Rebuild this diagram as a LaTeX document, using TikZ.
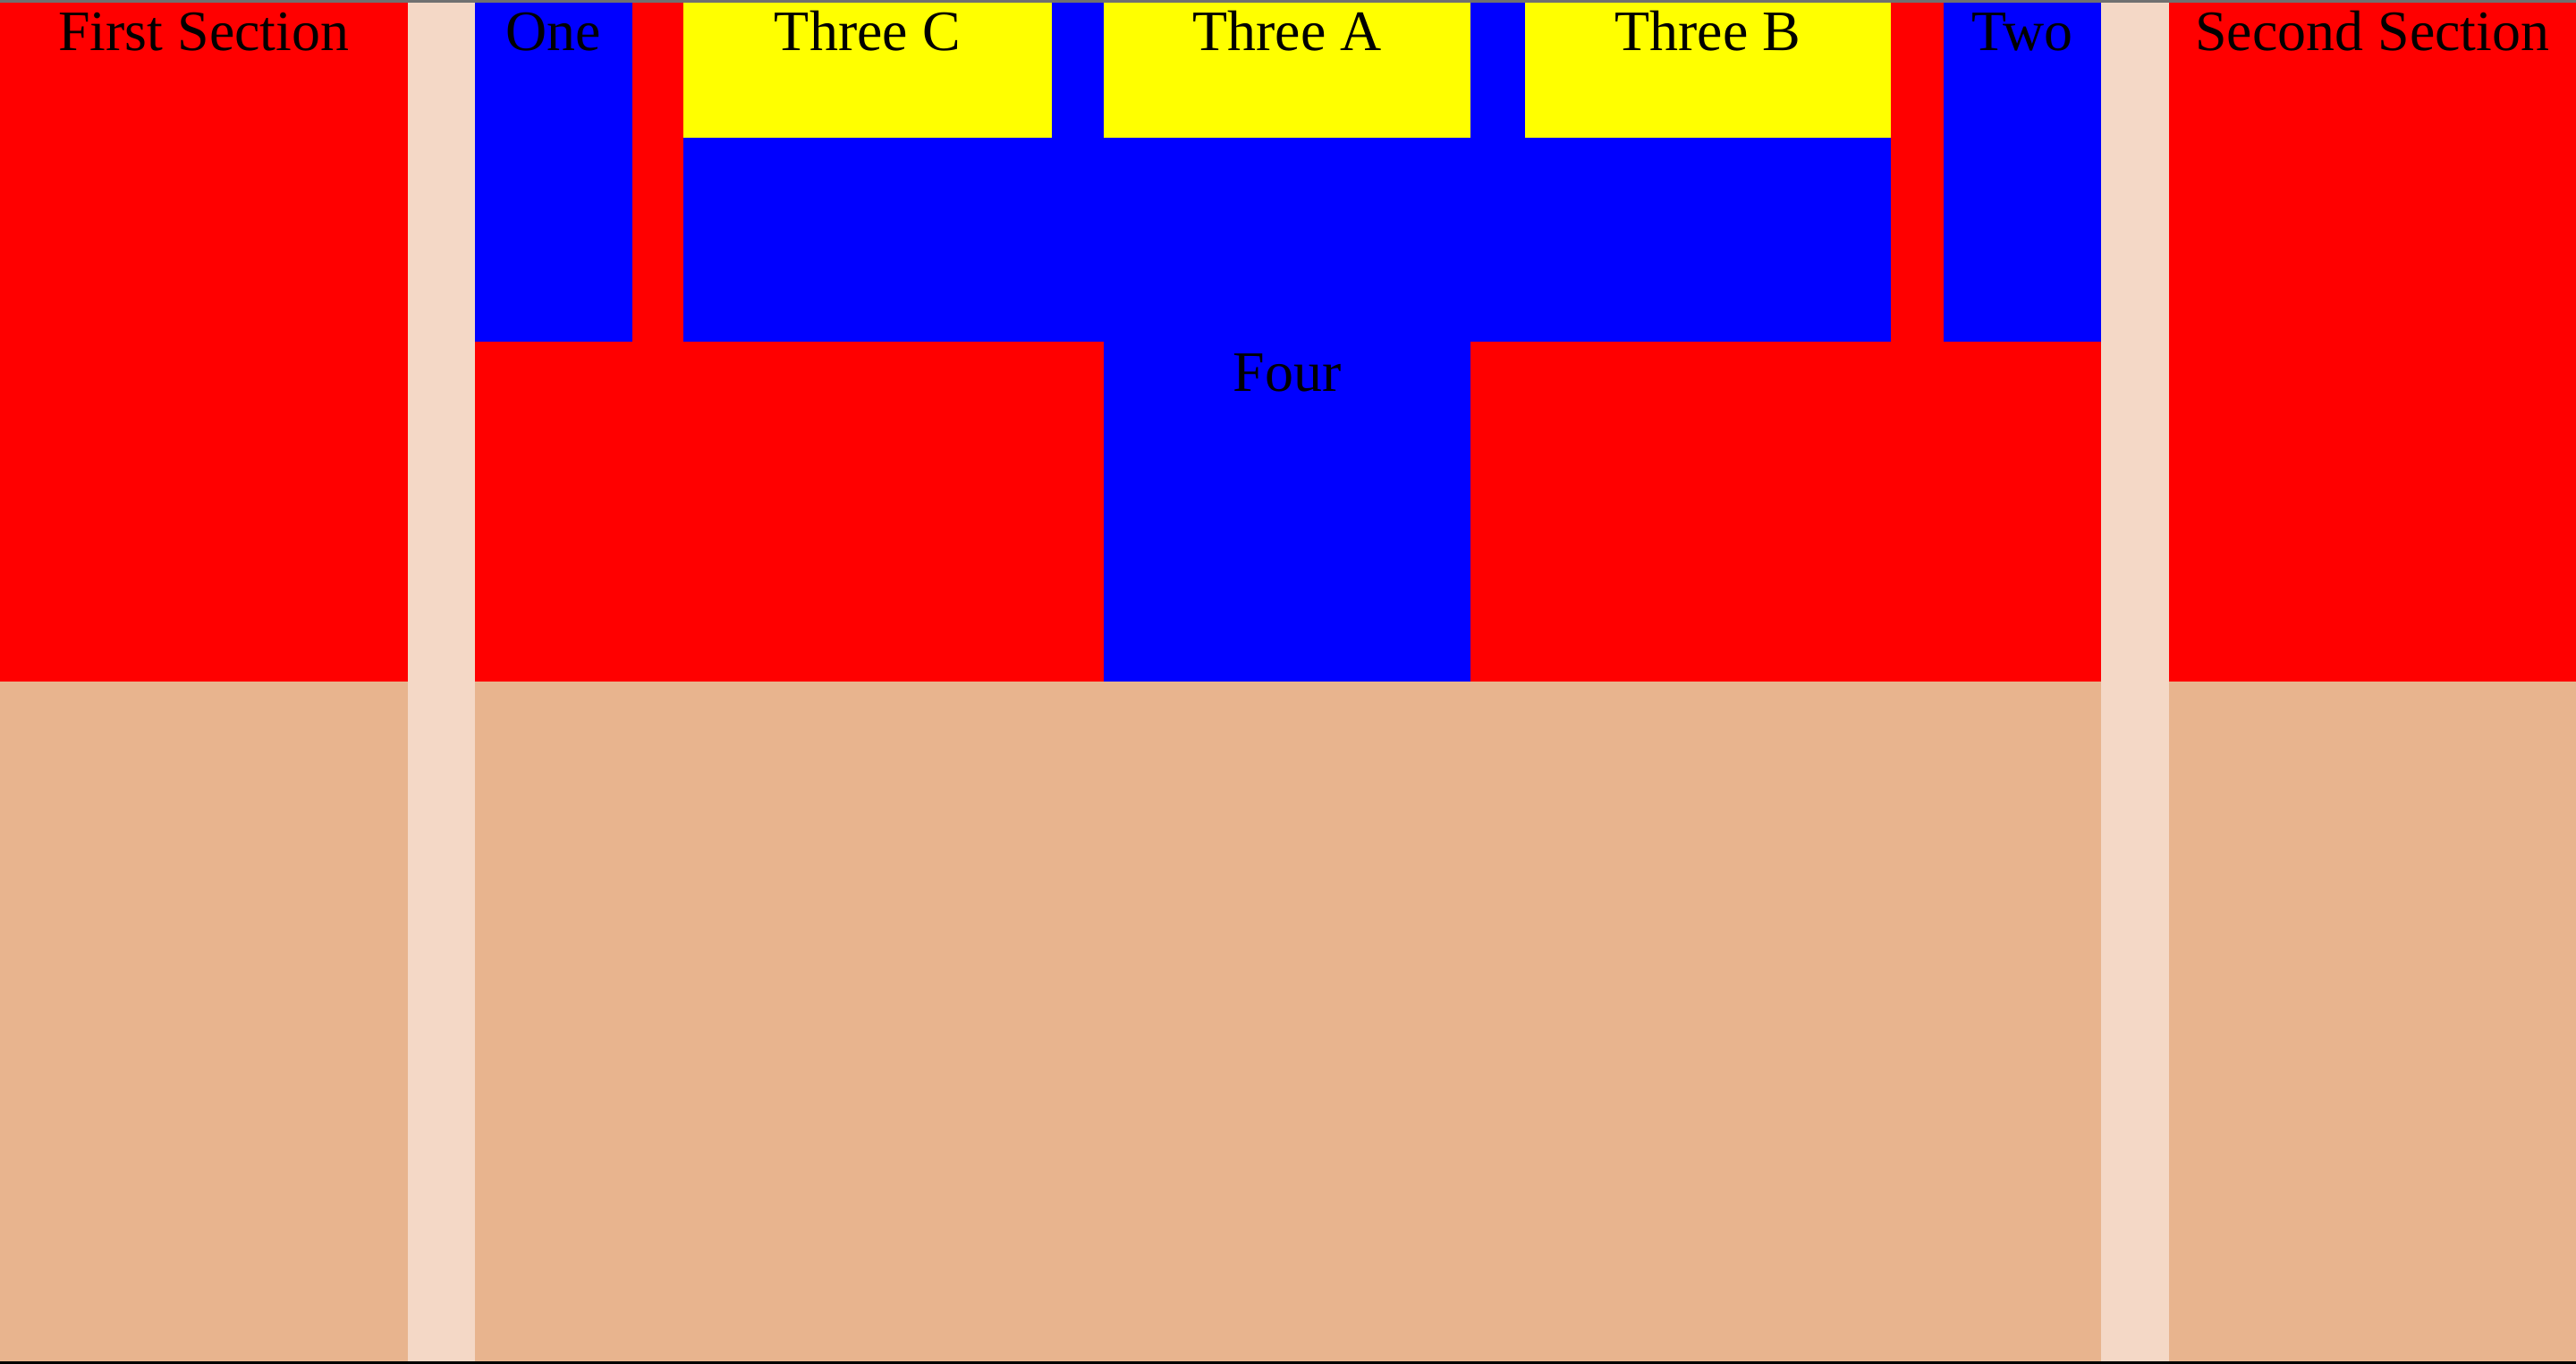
\documentclass[tikz,border=0pt]{standalone}
\usepackage{fontspec}
\setmainfont{Liberation Serif}
\usetikzlibrary{positioning}
\definecolor{AreaRed}    {HTML}{FF0000}
\definecolor{AreaBlue}   {HTML}{0000FF}
\definecolor{AreaYellow} {HTML}{FFFF00}
\definecolor{FloorTan}   {HTML}{E8B48E}
\definecolor{GapLight}   {HTML}{F4D8C6}
\definecolor{EdgeGrey}   {HTML}{707070}
\tikzset{areatext/.style={anchor=base,inner sep=0pt,text=black,
    font=\fontsize{34.8}{40}\selectfont}}

\begin{document}
\begin{tikzpicture}[x=1pt,y=-1pt]
    \useasboundingbox (0,0) rectangle (1568,830);
    % upper and lower bands
    \fill[AreaRed] (0,0) rectangle (1568,415);
    \fill[FloorTan] (0,415) rectangle (1568,830);
    % light gaps
    \fill[GapLight] (248,0) rectangle (289,830);
    \fill[GapLight] (1279,0) rectangle (1320,830);
    % blue parts
    \fill[AreaBlue] (289,0) rectangle (385,208);
    \fill[AreaBlue] (416,0) rectangle (1151,208);
    \fill[AreaBlue] (672,208) rectangle (895,415);
    \fill[AreaBlue] (1183,0) rectangle (1279,208);
    % yellow parts
    \fill[AreaYellow] (416,0) rectangle (640,84);
    \fill[AreaYellow] (672,0) rectangle (895,84);
    \fill[AreaYellow] (928,0) rectangle (1151,84);
    % frame edges
    \fill[EdgeGrey] (0,0) rectangle (1568,1.5);
    \fill[black] (0,828.8) rectangle (1568,830);
    % labels
    \node[areatext] (first)  at (124,31)    {First Section};
    \node[areatext] (one)    at (337,31)    {One};
    \node[areatext] (threec) at (528,31)    {Three C};
    \node[areatext] (threea) at (783.5,31)  {Three A};
    \node[areatext] (threeb) at (1039.5,31) {Three B};
    \node[areatext] (two)    at (1231,31)   {Two};
    \node[areatext] (second) at (1444,31)   {Second Section};
    \node[areatext] (four)   at (783.5,238) {Four};
\end{tikzpicture}
\end{document}
